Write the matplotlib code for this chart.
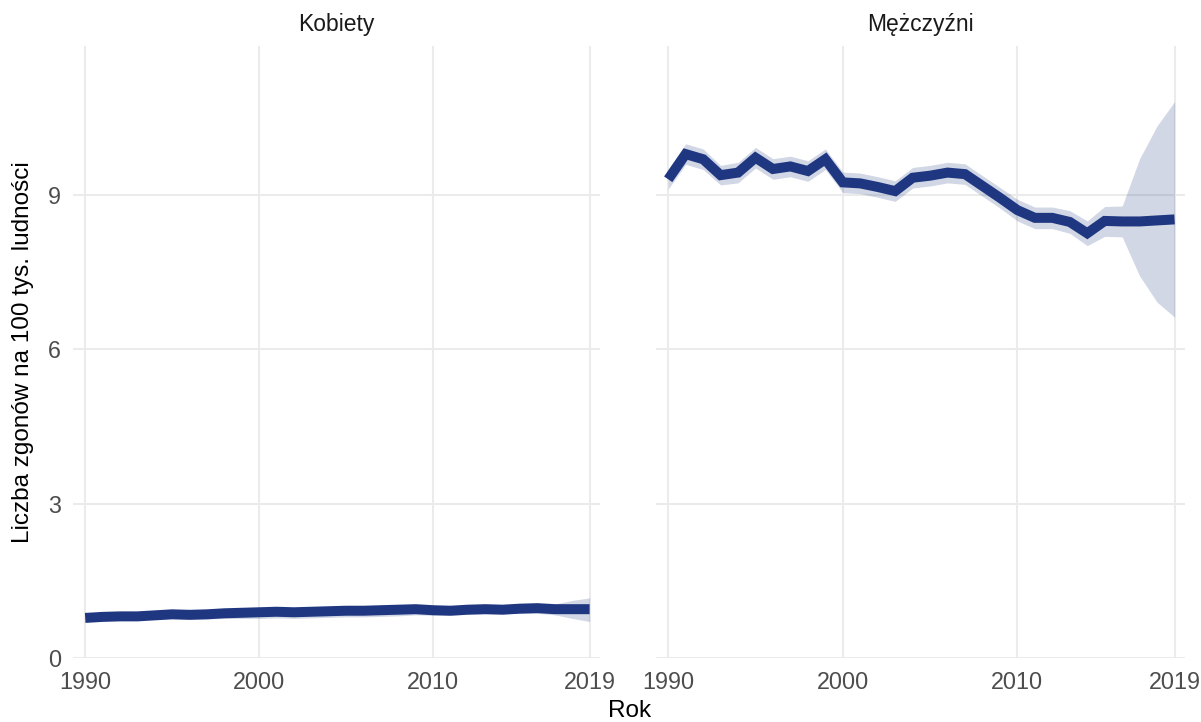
import numpy as np
import matplotlib
matplotlib.use("Agg")
import matplotlib.pyplot as plt

plt.rcParams['font.family'] = ['Liberation Sans', 'DejaVu Sans']

# -- dane --
years = list(range(1990, 2020))

panels = ['Kobiety', 'Mężczyźni']

kobiety = [0.78, 0.80, 0.81, 0.81, 0.83, 0.85, 0.84, 0.85, 0.87, 0.88,
           0.89, 0.90, 0.89, 0.90, 0.91, 0.92, 0.92, 0.93, 0.94, 0.95,
           0.93, 0.92, 0.94, 0.95, 0.94, 0.96, 0.97, 0.95, 0.95, 0.95]
kobiety_lo = [0.72, 0.74, 0.74, 0.74, 0.76, 0.77, 0.76, 0.76, 0.77, 0.77,
              0.77, 0.78, 0.77, 0.78, 0.79, 0.80, 0.80, 0.81, 0.82, 0.84,
              0.83, 0.83, 0.85, 0.86, 0.86, 0.87, 0.87, 0.84, 0.77, 0.71]
kobiety_hi = [0.84, 0.86, 0.87, 0.87, 0.89, 0.91, 0.90, 0.91, 0.93, 0.94,
              0.95, 0.96, 0.95, 0.96, 0.97, 0.98, 0.98, 0.99, 1.00, 1.01,
              0.99, 0.98, 1.00, 1.01, 1.00, 1.02, 1.03, 1.05, 1.12, 1.17]

mezczyzni = [9.31, 9.80, 9.70, 9.39, 9.44, 9.73, 9.51, 9.56, 9.47, 9.70,
             9.25, 9.23, 9.16, 9.08, 9.34, 9.38, 9.44, 9.41, 9.18, 8.95,
             8.71, 8.56, 8.56, 8.48, 8.26, 8.50, 8.49, 8.49, 8.51, 8.53]
mezczyzni_lo = [9.12, 9.60, 9.50, 9.20, 9.24, 9.53, 9.31, 9.36, 9.27, 9.50,
                9.05, 9.03, 8.96, 8.88, 9.14, 9.18, 9.24, 9.21, 8.98, 8.75,
                8.50, 8.35, 8.35, 8.26, 8.02, 8.20, 8.19, 7.43, 6.92, 6.63]
mezczyzni_hi = [9.50, 10.00, 9.90, 9.58, 9.64, 9.93, 9.71, 9.76, 9.67, 9.90,
                9.45, 9.43, 9.36, 9.28, 9.54, 9.58, 9.64, 9.61, 9.38, 9.15,
                8.92, 8.77, 8.77, 8.70, 8.50, 8.78, 8.79, 9.71, 10.35, 10.82]

x_ticks = [1990, 2000, 2010, 2019]
y_ticks = [0, 3, 6, 9]

# -- kolory --
c_line = '#1f3781'
c_grid = '#ebebeb'
c_tick = '#4d4d4d'

fig = plt.figure(figsize=(12.01, 7.22), dpi=100, facecolor='white')
ax_k = fig.add_axes([0.0608, 0.0886, 0.4388, 0.8477])
ax_m = fig.add_axes([0.5462, 0.0886, 0.4405, 0.8477])

y_top = 1.1 * max(mezczyzni_hi)

series = [(kobiety, kobiety_lo, kobiety_hi), (mezczyzni, mezczyzni_lo, mezczyzni_hi)]

for ax, name, (val, lo, hi) in zip([ax_k, ax_m], panels, series):
    ax.set_facecolor('white')
    ax.fill_between(years, lo, hi, color=c_line, alpha=0.2, lw=0, zorder=3)
    ax.plot(years, val, color=c_line, lw=7.2, solid_joinstyle='miter',
            solid_capstyle='butt', zorder=4)

    ax.set_xlim(1989.3, 2019.6)
    ax.set_ylim(0, y_top)
    ax.set_xticks(x_ticks)
    ax.set_yticks(y_ticks)
    ax.grid(True, color=c_grid, lw=1.5, zorder=0)
    ax.set_axisbelow(True)
    for s in ax.spines.values():
        s.set_visible(False)
    ax.tick_params(length=0, labelsize=16.8, labelcolor=c_tick)
    ax.tick_params(axis='x', pad=9)
    ax.tick_params(axis='y', pad=8.5)

    ax.text(0.5, 1.0 + 21 / 612, name, transform=ax.transAxes,
            ha='center', va='center', fontsize=16.5, color='#1a1a1a')

ax_m.tick_params(axis='y', labelleft=False)

ax_k.set_ylabel('Liczba zgonów na 100 tys. ludności', fontsize=17.5, color='black')
ax_k.yaxis.set_label_coords(-0.074, 0.5)

fig.text(0.5246, 0.015, 'Rok', ha='center', va='center', fontsize=17.5, color='black')

fig.savefig('out.png', dpi=100, facecolor='white')
